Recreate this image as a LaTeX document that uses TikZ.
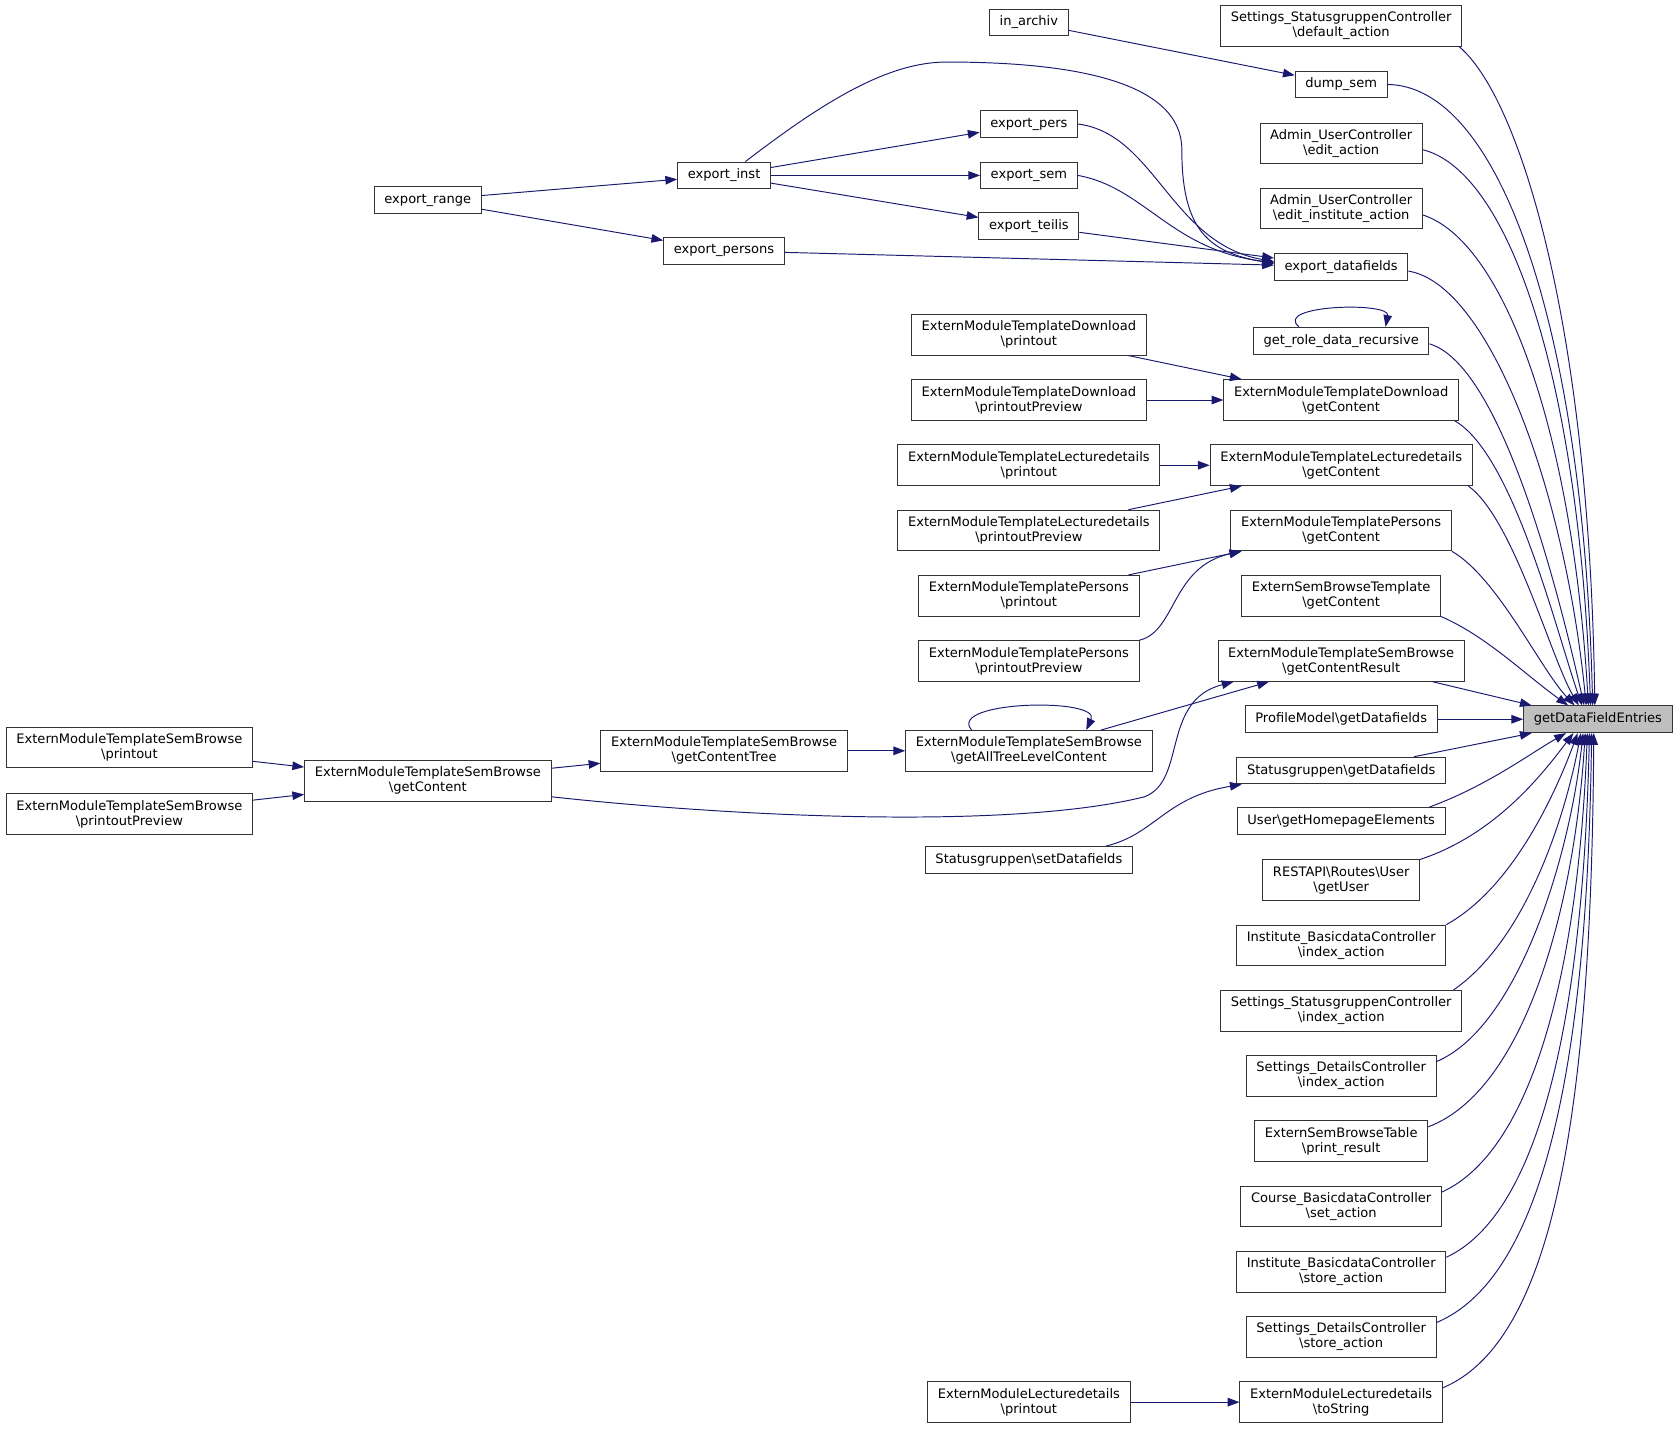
\documentclass[tikz,border=0pt]{standalone}
\usepackage{fontspec}
\setmainfont{DejaVu Sans}
\usetikzlibrary{arrows.meta}
\definecolor{edgeblue}{RGB}{25,25,112}
\newcommand\bsl{\textbackslash}
\begin{document}
\begin{tikzpicture}[x=1pt,y=-1pt,
  box/.style={draw=black!80, line width=0.9pt, fill=white, align=center,
    inner xsep=9.5pt, inner ysep=3pt, minimum height=25pt,
    font=\fontsize{12.2}{14}\selectfont},
  tw/.style={minimum height=38pt},
  main/.style={box, fill=black!25},
  edge/.style={draw=edgeblue, line width=0.9pt, -{Triangle[length=11pt,width=8pt]}}]
\useasboundingbox (0,0) rectangle (1568,1336);
% target
\node[main] (g) at (1494,672.5) {getDataFieldEntries};
% column 4
\node[box,tw] (n1) at (1254,24) {Settings\_StatusgruppenController\\\bsl default\_action};
\node[box] (n2) at (1254,79) {dump\_sem};
\node[box,tw] (n3) at (1254,134) {Admin\_UserController\\\bsl edit\_action};
\node[box,tw] (n4) at (1254,195) {Admin\_UserController\\\bsl edit\_institute\_action};
\node[box] (n5) at (1254,249.5) {export\_datafields};
\node[box] (n6) at (1254,318.5) {get\_role\_data\_recursive};
\node[box,tw] (n7) at (1254,374) {ExternModuleTemplateDownload\\\bsl getContent};
\node[box,tw] (n8) at (1254,435) {ExternModuleTemplateLecturedetails\\\bsl getContent};
\node[box,tw] (n9) at (1254,496) {ExternModuleTemplatePersons\\\bsl getContent};
\node[box,tw] (n10) at (1254,557) {ExternSemBrowseTemplate\\\bsl getContent};
\node[box,tw] (n11) at (1254,618) {ExternModuleTemplateSemBrowse\\\bsl getContentResult};
\node[box] (n12) at (1254,672.5) {ProfileModel\bsl getDatafields};
\node[box] (n13) at (1254,720.5) {Statusgruppen\bsl getDatafields};
\node[box] (n14) at (1254,767.5) {User\bsl getHomepageElements};
\node[box,tw] (n15) at (1254,823) {RESTAPI\bsl Routes\bsl User\\\bsl getUser};
\node[box,tw] (n16) at (1254,884) {Institute\_BasicdataController\\\bsl index\_action};
\node[box,tw] (n17) at (1254,945) {Settings\_StatusgruppenController\\\bsl index\_action};
\node[box,tw] (n18) at (1254,1006) {Settings\_DetailsController\\\bsl index\_action};
\node[box,tw] (n19) at (1254,1067) {ExternSemBrowseTable\\\bsl print\_result};
\node[box,tw] (n20) at (1254,1128) {Course\_BasicdataController\\\bsl set\_action};
\node[box,tw] (n21) at (1254,1189) {Institute\_BasicdataController\\\bsl store\_action};
\node[box,tw] (n22) at (1254,1250) {Settings\_DetailsController\\\bsl store\_action};
\node[box,tw] (n23) at (1254,1311) {ExternModuleLecturedetails\\\bsl toString};
% column 3
\node[box] (ainarch) at (962,21) {in\_archiv};
\node[box] (apers) at (962,116) {export\_pers};
\node[box] (asem) at (962,164) {export\_sem};
\node[box] (ateil) at (962,211) {export\_teilis};
\node[box,tw] (dpr) at (962,313) {ExternModuleTemplateDownload\\\bsl printout};
\node[box,tw] (dprp) at (962,374) {ExternModuleTemplateDownload\\\bsl printoutPreview};
\node[box,tw] (lpr) at (962,435) {ExternModuleTemplateLecturedetails\\\bsl printout};
\node[box,tw] (lprp) at (962,496) {ExternModuleTemplateLecturedetails\\\bsl printoutPreview};
\node[box,tw] (ppr) at (962,557) {ExternModuleTemplatePersons\\\bsl printout};
\node[box,tw] (pprp) at (962,618) {ExternModuleTemplatePersons\\\bsl printoutPreview};
\node[box,tw] (sall) at (962,702) {ExternModuleTemplateSemBrowse\\\bsl getAllTreeLevelContent};
\node[box] (stset) at (962,804) {Statusgruppen\bsl setDatafields};
\node[box,tw] (ldpr) at (962,1311) {ExternModuleLecturedetails\\\bsl printout};
% column 2
\node[box] (ainst) at (677,164) {export\_inst};
\node[box] (apersons) at (677,234.5) {export\_persons};
\node[box,tw] (stree) at (677,702) {ExternModuleTemplateSemBrowse\\\bsl getContentTree};
% column 1
\node[box] (arange) at (400,187) {export\_range};
\node[box,tw] (sgc) at (400,730) {ExternModuleTemplateSemBrowse\\\bsl getContent};
% column 0
\node[box,tw] (spr) at (121,699) {ExternModuleTemplateSemBrowse\\\bsl printout};
\node[box,tw] (sprp) at (121,761) {ExternModuleTemplateSemBrowse\\\bsl printoutPreview};

% edges into getDataFieldEntries
\draw[edge] ([xshift=-3pt]n1.south east) .. controls (1420,90) and (1486,300) .. ([xshift=67pt]g.north west);
\draw[edge] (n2.east) .. controls (1400,80) and (1480,300) .. ([xshift=65pt]g.north west);
\draw[edge] ([yshift=-6pt]n3.east) .. controls (1410,160) and (1476,350) .. ([xshift=63pt]g.north west);
\draw[edge] ([yshift=-6pt]n4.east) .. controls (1405,225) and (1470,400) .. ([xshift=61pt]g.north west);
\draw[edge] ([yshift=-4pt]n5.east) .. controls (1390,265) and (1462,450) .. ([xshift=59pt]g.north west);
\draw[edge] ([yshift=-3pt]n6.east) .. controls (1400,340) and (1452,530) .. ([xshift=57pt]g.north west);
\draw[edge] ([xshift=-4pt]n7.south east) .. controls (1415,425) and (1455,590) .. ([xshift=55pt]g.north west);
\draw[edge] ([xshift=-4pt]n8.south east) .. controls (1415,485) and (1450,615) .. ([xshift=52pt]g.north west);
\draw[edge] (n9.south east) .. controls (1400,540) and (1440,625) .. ([xshift=48pt]g.north west);
\draw[edge] (n10.south east) .. controls (1390,595) and (1425,630) .. ([xshift=42pt]g.north west);
\draw[edge] ([xshift=-30pt]n11.south east) -- ([xshift=8pt]g.north west);
\draw[edge] (n12) -- (g);
\draw[edge] ([xshift=-30pt]n13.north east) -- ([xshift=8pt]g.south west);
\draw[edge] ([xshift=-15pt]n14.north east) .. controls (1390,735) and (1430,705) .. ([xshift=40pt]g.south west);
\draw[edge] (n15.north east) .. controls (1400,780) and (1445,720) .. ([xshift=47pt]g.south west);
\draw[edge] (n16.north east) .. controls (1415,830) and (1455,740) .. ([xshift=51pt]g.south west);
\draw[edge] ([xshift=-8pt]n17.north east) .. controls (1425,880) and (1462,770) .. ([xshift=54pt]g.south west);
\draw[edge] ([yshift=-6pt]n18.north east) .. controls (1420,960) and (1468,800) .. ([xshift=56pt]g.south west);
\draw[edge] ([yshift=-6pt]n19.north east) .. controls (1425,1020) and (1472,850) .. ([xshift=58pt]g.south west);
\draw[edge] ([yshift=-6pt]n20.north east) .. controls (1435,1075) and (1476,900) .. ([xshift=60pt]g.south west);
\draw[edge] ([yshift=-6pt]n21.north east) .. controls (1440,1135) and (1480,950) .. ([xshift=62pt]g.south west);
\draw[edge] ([yshift=-6pt]n22.north east) .. controls (1442,1195) and (1484,1000) .. ([xshift=64pt]g.south west);
\draw[edge] ([yshift=-6pt]n23.north east) .. controls (1450,1255) and (1488,1050) .. ([xshift=66pt]g.south west);

% export subgraph
\draw[edge] (ainarch) -- (n2);
\draw[edge] (apers.east) .. controls (1080,125) and (1095,228) .. ([yshift=5pt]n5.west);
\draw[edge] (asem.east) .. controls (1070,175) and (1095,234) .. ([yshift=4pt]n5.west);
\draw[edge] (ateil) -- (n5);
\draw[edge] (apersons) -- (n5);
\draw[edge] ([xshift=20pt]ainst.north) .. controls (770,95) and (830,58) .. (885,58)
  .. controls (1000,58) and (1105,75) .. (1105,140)
  .. controls (1105,215) and (1130,236) .. ([yshift=3pt]n5.west);
\draw[edge] (ainst) -- (apers);
\draw[edge] (ainst) -- (asem);
\draw[edge] (ainst) -- (ateil);
\draw[edge] (arange) -- (ainst);
\draw[edge] (arange) -- (apersons);
\draw[edge] ([xshift=43pt]n6.north west) .. controls (1190,285) and (1300,282) .. ([xshift=-41pt]n6.north east);

% extern module subgraph
\draw[edge] (dpr) -- (n7);
\draw[edge] (dprp) -- (n7);
\draw[edge] (lpr) -- (n8);
\draw[edge] (lprp) -- (n8);
\draw[edge] (ppr) -- (n9);
\draw[edge] (pprp.north east) .. controls (1100,590) and (1095,530) .. ([xshift=10pt]n9.south west);
\draw[edge] (sall) -- (n11);
\draw[edge] ([xshift=62pt]sall.north west) .. controls (885,655) and (1030,652) .. ([xshift=-62pt]sall.north east);
\draw[edge] ([yshift=-15pt]sgc.east) .. controls (700,765) and (950,775) .. (1070,745)
  .. controls (1110,730) and (1085,655) .. ([xshift=15pt]n11.south west);
\draw[edge] (stree) -- (sall);
\draw[edge] (sgc) -- (stree);
\draw[edge] (spr) -- (sgc);
\draw[edge] (sprp) -- (sgc);
\draw[edge] ([xshift=-25pt]stset.north east) .. controls (1080,780) and (1090,745) .. ([xshift=5pt]n13.south west);
\draw[edge] (ldpr) -- (n23);
\end{tikzpicture}
\end{document}
